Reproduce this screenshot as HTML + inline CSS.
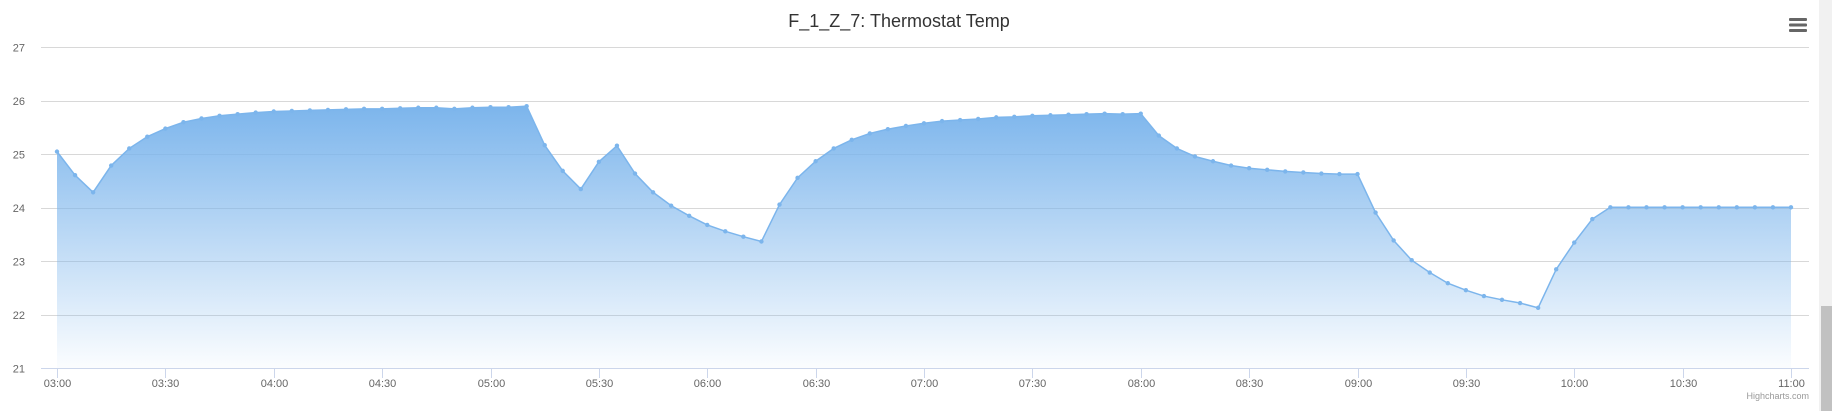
<!DOCTYPE html>
<html><head><meta charset="utf-8"><style>
html,body{margin:0;padding:0;background:#fff;width:1832px;height:411px;overflow:hidden;font-family:"Liberation Sans",sans-serif}
</style></head><body>
<svg width="1832" height="411" viewBox="0 0 1832 411" xmlns="http://www.w3.org/2000/svg" font-family="Liberation Sans, sans-serif">
<defs><linearGradient id="g" x1="0" y1="0" x2="0" y2="1">
<stop offset="0" stop-color="#7cb5ec" stop-opacity="1"/>
<stop offset="1" stop-color="#7cb5ec" stop-opacity="0.03"/></linearGradient></defs>
<text x="899" y="27" text-anchor="middle" font-size="18" fill="#333">F_1_Z_7: Thermostat Temp</text>
<g><rect x="1789" y="18" width="18" height="3" rx="1" fill="#666"/><rect x="1789" y="23.5" width="18" height="3" rx="1" fill="#666"/><rect x="1789" y="29" width="18" height="3" rx="1" fill="#666"/></g>
<rect x="1819" y="0" width="13" height="411" fill="#f1f1f1"/>
<rect x="1821" y="306" width="11" height="105" fill="#c1c1c1"/>
<text x="-3" y="215" transform="rotate(-90 -3 215)" text-anchor="middle" font-size="12" fill="#666">Values</text>
<g id="grid"></g><g id="plot"></g><g id="xaxis"></g>
<text x="1809" y="399" text-anchor="end" font-size="9" fill="#999">Highcharts.com</text>
</svg>
<script>
const yTicks=[21,22,23,24,25,26,27];
const xLabels=["03:00","03:30","04:00","04:30","05:00","05:30","06:00","06:30","07:00","07:30","08:00","08:30","09:00","09:30","10:00","10:30","11:00"];
const values=[25.05,24.61,24.29,24.79,25.11,25.33,25.48,25.60,25.67,25.72,25.75,25.78,25.80,25.81,25.82,25.83,25.84,25.85,25.85,25.86,25.87,25.87,25.85,25.87,25.88,25.88,25.90,
25.17,24.69,24.35,24.86,25.16,24.64,24.29,24.04,23.85,23.68,23.56,23.46,23.37,24.06,24.56,24.87,25.11,25.27,25.39,25.47,25.53,25.58,25.62,
25.64,25.66,25.69,25.70,25.72,25.73,25.74,25.75,25.76,25.75,25.76,
25.35,25.11,24.96,24.87,24.79,24.74,24.71,24.68,24.66,24.64,24.63,24.63,
23.91,23.39,23.02,22.79,22.59,22.46,22.35,22.28,22.22,22.13,22.85,23.35,23.79,24.01,
24.01,24.01,24.01,24.01,24.01,24.01,24.01,24.01,24.01,24.01];
const NS="http://www.w3.org/2000/svg";
const X0=57,X1=1791,Y21=368.3,Y27=47.3,n=values.length;
const xs=i=>X0+(X1-X0)*i/(n-1);
const ys=v=>Y21-(v-21)*(Y21-Y27)/6;
function mk(t,a,p){const e=document.createElementNS(NS,t);for(const k in a)e.setAttribute(k,a[k]);p.appendChild(e);return e;}
const grid=document.getElementById('grid'),plot=document.getElementById('plot'),xa=document.getElementById('xaxis');
yTicks.forEach(v=>{
 const y=Math.round(ys(v))+0.5;
 if(v>21){const l=mk('line',{x1:41,x2:1809,y1:y,y2:y,stroke:'#d8d8d8','stroke-width':1},grid);
 
 }
 const t=mk('text',{x:25,y:ys(v)+4,'text-anchor':'end','font-size':11,fill:'#666'},grid);t.textContent=v;
 
 
});
let d='M'+xs(0)+','+ys(values[0]);values.forEach((v,i)=>{if(i)d+=' L'+xs(i)+','+ys(v);});
const area=mk('path',{d:d+' L'+xs(n-1)+','+Y21+' L'+xs(0)+','+Y21+' Z',fill:'url(#g)'},plot);


const line=mk('path',{d:d,fill:'none',stroke:'#7cb5ec','stroke-width':1.5},plot);


values.forEach((v,i)=>{const c=mk('circle',{cx:xs(i),cy:ys(v),r:2.2,fill:'#7cb5ec'},plot);
 
 });
const ax=mk('line',{x1:41,x2:1809,y1:368.5,y2:368.5,stroke:'#ccd6eb','stroke-width':1},xa);


xLabels.forEach((s,i)=>{const x=Math.round(X0+(X1-X0)*i/(xLabels.length-1))+0.5;
 mk('line',{x1:x,x2:x,y1:368,y2:378,stroke:'#ccd6eb'},xa);
 const t=mk('text',{x:x,y:387,'text-anchor':'middle','font-size':11,fill:'#666'},xa);t.textContent=s;
 
 });
</script>
</body></html>
